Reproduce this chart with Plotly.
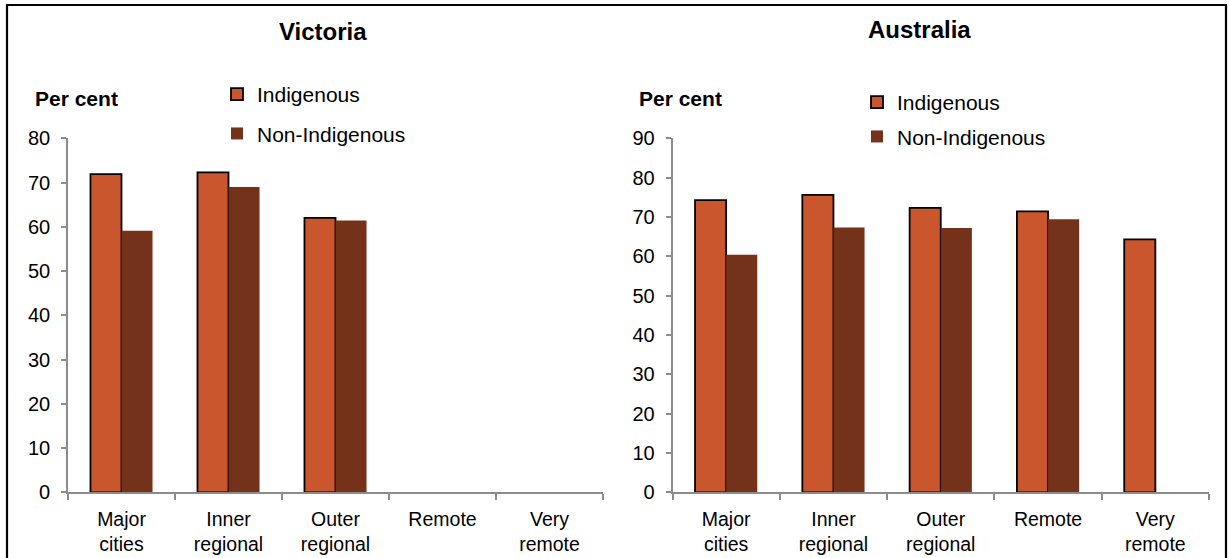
import plotly.graph_objects as go

# Remoteness areas shown along the horizontal axis
categories = ["Major cities", "Inner regional", "Outer regional", "Remote", "Very remote"]
tick_labels = ["Major<br>cities", "Inner<br>regional", "Outer<br>regional", "Remote", "Very<br>remote"]

# Victoria (no Remote / Very remote areas)
vic_indigenous = [71.9, 72.3, 62.0, None, None]
vic_non_indigenous = [59.1, 69.0, 61.4, None, None]

# Australia
aus_indigenous = [74.3, 75.6, 72.3, 71.4, 64.3]
aus_non_indigenous = [60.4, 67.3, 67.2, 69.4, None]

W, H = 1229, 558
IND_COLOR = "#C9562C"
NON_COLOR = "#75321A"
AXIS_GRAY = "#8C8C8C"
FONT = "Liberation Sans, Arial, sans-serif"


def px_x(v):
    return v / W


def px_y(v):
    return (H - v) / H


fig = go.Figure()

panels = [
    ("x", "y", "legend", vic_indigenous, vic_non_indigenous),
    ("x2", "y2", "legend2", aus_indigenous, aus_non_indigenous),
]
for xa, ya, lg, ind, non in panels:
    fig.add_trace(go.Bar(
        x=categories, y=ind, name="Indigenous", xaxis=xa, yaxis=ya,
        legend=lg, legendgroup=lg + "a",
        marker=dict(color=IND_COLOR, line=dict(color="black", width=1.8)),
        hoverinfo="x+y",
    ))
    fig.add_trace(go.Bar(
        x=categories, y=non, name="Non-Indigenous", xaxis=xa, yaxis=ya,
        legend=lg, legendgroup=lg + "b",
        marker=dict(color=NON_COLOR, line=dict(color=NON_COLOR, width=0)),
        hoverinfo="x+y",
    ))

y_dom = [px_y(492.3), px_y(138.3)]

xaxis_common = dict(
    type="category", categoryorder="array", categoryarray=categories,
    tickvals=categories, ticktext=tick_labels,
    range=[-0.5, 4.5], tickson="boundaries",
    ticks="outside", ticklen=6, tickwidth=1.5, tickcolor=AXIS_GRAY,
    showline=True, linecolor=AXIS_GRAY, linewidth=1.6,
    showgrid=False, zeroline=False, fixedrange=True, automargin=False,
    tickfont=dict(family=FONT, size=19.5, color="black"),
    ticklabelstandoff=8,
)
yaxis_common = dict(
    dtick=10, ticks="outside", ticklen=5, tickwidth=1.5, tickcolor=AXIS_GRAY,
    showline=True, linecolor=AXIS_GRAY, linewidth=1.6,
    showgrid=False, zeroline=False, fixedrange=True, automargin=False,
    tickfont=dict(family=FONT, size=20, color="black"),
    ticklabelstandoff=7,
)

legend_common = dict(
    font=dict(family=FONT, size=21, color="black"),
    bgcolor="rgba(0,0,0,0)", borderwidth=0,
    xanchor="left", yanchor="top", traceorder="grouped",
    itemclick=False, itemdoubleclick=False,
)

fig.update_layout(
    width=W, height=H,
    margin=dict(l=0, r=0, t=0, b=0, pad=0, autoexpand=False),
    paper_bgcolor="white", plot_bgcolor="white",
    barmode="group", bargap=0.42, bargroupgap=0,
    font=dict(family=FONT, size=20, color="black"),
    showlegend=True,
    xaxis=dict(domain=[px_x(68), px_x(603)], anchor="y", **xaxis_common),
    yaxis=dict(domain=y_dom, anchor="x", range=[0, 80], **yaxis_common),
    xaxis2=dict(domain=[px_x(672.5), px_x(1209)], anchor="y2", **xaxis_common),
    yaxis2=dict(domain=y_dom, anchor="x2", range=[0, 90], **yaxis_common),
    legend=dict(x=px_x(217), y=px_y(74), tracegroupgap=9, **legend_common),
    legend2=dict(x=px_x(857), y=px_y(82), tracegroupgap=4, **legend_common),
    annotations=[
        dict(text="<b>Victoria</b>", x=px_x(323), y=px_y(31), xref="paper", yref="paper",
             showarrow=False, xanchor="center", yanchor="middle",
             font=dict(family=FONT, size=24, color="black")),
        dict(text="<b>Australia</b>", x=px_x(919), y=px_y(30), xref="paper", yref="paper",
             showarrow=False, xanchor="center", yanchor="middle",
             font=dict(family=FONT, size=24, color="black")),
        dict(text="<b>Per cent</b>", x=px_x(33), y=px_y(98), xref="paper", yref="paper",
             showarrow=False, xanchor="left", yanchor="middle",
             font=dict(family=FONT, size=21, color="black")),
        dict(text="<b>Per cent</b>", x=px_x(637), y=px_y(98), xref="paper", yref="paper",
             showarrow=False, xanchor="left", yanchor="middle",
             font=dict(family=FONT, size=21, color="black")),
    ],
    shapes=[
        dict(type="rect", xref="paper", yref="paper",
             x0=px_x(7), x1=px_x(1226), y0=-0.05, y1=px_y(5),
             line=dict(color="black", width=2.2), fillcolor="rgba(0,0,0,0)", layer="below"),
    ],
)

fig.write_html("out.html")
